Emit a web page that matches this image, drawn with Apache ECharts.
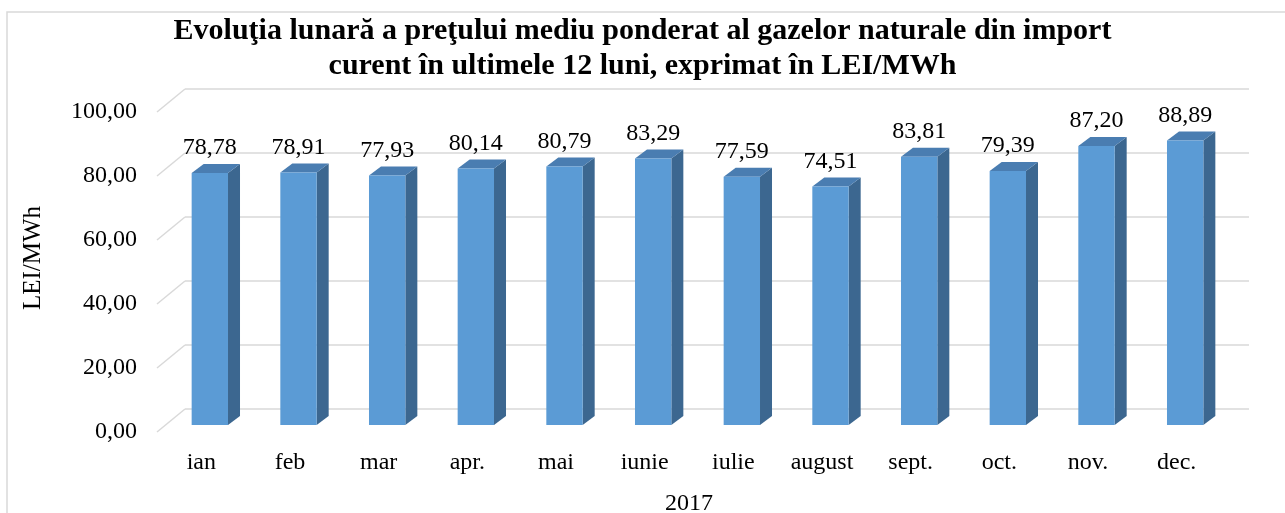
<!DOCTYPE html>
<html>
<head>
<meta charset="utf-8">
<script src="https://cdn.jsdelivr.net/npm/echarts@6/dist/echarts.min.js"></script>
<style>
  html, body { margin: 0; padding: 0; background: #fff; }
  #chart { width: 1285px; height: 513px; }
</style>
</head>
<body>
<div id="chart"></div>
<script>
const months = ['ian', 'feb', 'mar', 'apr.', 'mai', 'iunie', 'iulie', 'august', 'sept.', 'oct.', 'nov.', 'dec.']
const prices = [78.78, 78.91, 77.93, 80.14, 80.79, 83.29, 77.59, 74.51, 83.81, 79.39, 87.20, 88.89]
const yTicks = [0, 20, 40, 60, 80, 100]

const font = 'Liberation Serif'
const gridColor = '#d9d9d9'
const depth = { x: 28, y: -23 }   // wall depth
const barDepth = { x: 12, y: -9 } // bar depth

const fmt = (v) => v.toFixed(2).replace('.', ',')

const chart = echarts.init(document.getElementById('chart'))

function renderDiagonal(params, api) {
  const cs = params.coordSys
  const y = api.coord([0, api.value(0)])[1]
  return {
    type: 'line',
    shape: { x1: cs.x, y1: y, x2: cs.x + depth.x, y2: y + depth.y },
    style: { stroke: gridColor, lineWidth: 1.5 },
  }
}

function renderBar(params, api) {
  const i = api.value(0)
  const v = api.value(1)
  const top = api.coord([i, v])
  const base = api.coord([i, 0])
  const w = api.size([1, 0])[0] * 0.41
  const l = top[0] - w / 2
  const r = top[0] + w / 2
  const t = top[1]
  const b = base[1]
  const dx = barDepth.x
  const dy = barDepth.y
  return {
    type: 'group',
    children: [
      {
        type: 'polygon',
        shape: { points: [[r, t], [r + dx, t + dy], [r + dx, b + dy], [r, b]] },
        style: { fill: '#3c6790' },
      },
      {
        type: 'polygon',
        shape: { points: [[l, t], [l + dx, t + dy], [r + dx, t + dy], [r, t]] },
        style: { fill: '#4a7db1' },
      },
      {
        type: 'rect',
        shape: { x: l, y: t, width: w, height: b - t },
        style: { fill: '#5b9bd5' },
      },
      {
        type: 'text',
        style: {
          x: top[0], y: t - 25,
          text: fmt(v),
          fill: '#000',
          font: '24px "' + font + '"',
          align: 'center',
          verticalAlign: 'middle',
        },
      },
    ],
  }
}

chart.setOption({
  backgroundColor: '#fff',
  animation: false,
  title: {
    text: 'Evoluţia lunară a preţului mediu ponderat al gazelor naturale din import\ncurent în ultimele 12 luni, exprimat în LEI/MWh',
    left: 'center',
    top: 9,
    textStyle: { fontFamily: font, fontWeight: 'bold', fontSize: 30, lineHeight: 35, color: '#000' },
  },
  graphic: [
    {
      type: 'rect',
      shape: { x: 7, y: 12, width: 1290, height: 520 },
      style: { fill: 'none', stroke: gridColor, lineWidth: 1.5 },
      silent: true,
    },
    {
      type: 'text',
      x: 33, y: 258, rotation: Math.PI / 2,
      style: { text: 'LEI/MWh', font: '25px "' + font + '"', fill: '#000', align: 'center', verticalAlign: 'middle' },
    },
  ],
  grid: [
    { left: 157, top: 112, width: 1064, height: 320, outerBoundsMode: 'none' },
    { left: 185, top: 89, width: 1064, height: 320, outerBoundsMode: 'none' },
    { left: 165.5, top: 105, width: 1064, height: 320, outerBoundsMode: 'none' },
  ],
  xAxis: [
    {
      gridIndex: 0, type: 'category', data: months,
      axisLine: { show: false }, axisTick: { show: false },
      axisLabel: { color: '#000', fontFamily: font, fontSize: 24, margin: 19 },
      name: '2017', nameLocation: 'middle', nameGap: 60,
      nameTextStyle: { color: '#000', fontFamily: font, fontSize: 24 },
    },
    { gridIndex: 1, type: 'category', data: months, show: false },
    { gridIndex: 2, type: 'category', data: months, show: false },
  ],
  yAxis: [
    {
      gridIndex: 0, type: 'value', min: 0, max: 100, interval: 20,
      axisLine: { show: false }, axisTick: { show: false }, splitLine: { show: false },
      axisLabel: { color: '#000', fontFamily: font, fontSize: 24, margin: 20, formatter: fmt, padding: [4, 0, 0, 0] },
    },
    {
      gridIndex: 1, type: 'value', min: 0, max: 100, interval: 20,
      axisLine: { show: false }, axisTick: { show: false }, axisLabel: { show: false },
      splitLine: { lineStyle: { color: gridColor, width: 1.5 } },
    },
    { gridIndex: 2, type: 'value', min: 0, max: 100, interval: 20, show: false },
  ],
  series: [
    {
      type: 'custom', xAxisIndex: 0, yAxisIndex: 0,
      data: yTicks.map((v) => [v]),
      encode: { y: 0 },
      renderItem: renderDiagonal,
      silent: true,
    },
    {
      type: 'custom', xAxisIndex: 2, yAxisIndex: 2,
      data: prices.map((v, i) => [i, v]),
      renderItem: renderBar,
      silent: true,
    },
  ],
})
</script>
</body>
</html>
